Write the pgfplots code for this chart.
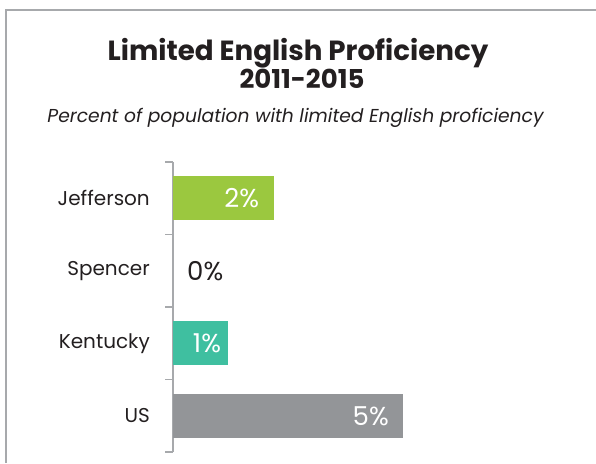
\documentclass[border=0pt]{standalone}
\usepackage{pgfplots}
\pgfplotsset{compat=1.18}
\usepackage{fontspec}
\setmainfont{Poppins}
\definecolor{framegray}{HTML}{A7A9AC}
\definecolor{axgray}{HTML}{A7A9AC}
\definecolor{jgreen}{HTML}{9BC83F}
\definecolor{kteal}{HTML}{3FBFA0}
\definecolor{usgray}{HTML}{939598}
\definecolor{txt}{HTML}{231F20}
\begin{document}
\begin{tikzpicture}[x=1pt,y=1pt]
\useasboundingbox (0,0) rectangle (596,-463);
\draw[framegray, line width=1.2pt] (6,-463) -- (6,-10) -- (596,-10);
\node[anchor=base, inner sep=0, text=txt, font=\fontsize{27.7}{30}\selectfont\bfseries] at (298,-60) {Limited English Proficiency};
\node[anchor=base, inner sep=0, text=txt, font=\fontsize{26}{28}\selectfont\bfseries] at (302,-88) {2011-2015};
\node[anchor=base, inner sep=0, text=txt, font=\fontsize{18.7}{21}\selectfont\itshape] at (295.5,-122) {Percent of population with limited English proficiency};
\begin{axis}[
  at={(173pt,-162pt)}, anchor=north west,
  scale only axis, width=230pt, height=290pt,
  xmin=0, xmax=5, ymin=-0.5, ymax=3.5,
  y dir=reverse,
  hide x axis,
  axis y line*=left,
  y axis line style={draw=axgray, line width=1.2pt, -},
  ytick={0,1,2,3},
  yticklabels={Jefferson,Spencer,Kentucky,US},
  minor ytick={-0.5,0.5,1.5,2.5,3.5},
  major tick length=0pt,
  minor tick length=8pt,
  tick align=outside,
  minor tick style={draw=axgray, line width=1.2pt},
  major tick style={draw=none},
  yticklabel style={font=\fontsize{20}{23}\selectfont, text=txt, inner sep=0pt, xshift=-23pt},
  xbar, bar width=44pt, bar shift=0pt,
  clip=false,
  point meta=explicit symbolic,
  nodes near coords,
]
\addplot[fill=jgreen, draw=none, nodes near coords style={anchor=east, inner sep=0pt, xshift=-15pt, text=white, font=\fontsize{26}{28}\selectfont}]
  coordinates {(2.2,0) [2\%]};
\addplot[fill=none, draw=none, nodes near coords style={anchor=west, inner sep=0pt, xshift=14pt, text=txt, font=\fontsize{26}{28}\selectfont}]
  coordinates {(0,1) [0\%]};
\addplot[fill=kteal, draw=none, nodes near coords style={anchor=east, inner sep=0pt, xshift=-7pt, text=white, font=\fontsize{26}{28}\selectfont}]
  coordinates {(1.2,2) [1\%]};
\addplot[fill=usgray, draw=none, nodes near coords style={anchor=east, inner sep=0pt, xshift=-14pt, text=white, font=\fontsize{26}{28}\selectfont}]
  coordinates {(5.0,3) [5\%]};
\end{axis}
\end{tikzpicture}
\end{document}
